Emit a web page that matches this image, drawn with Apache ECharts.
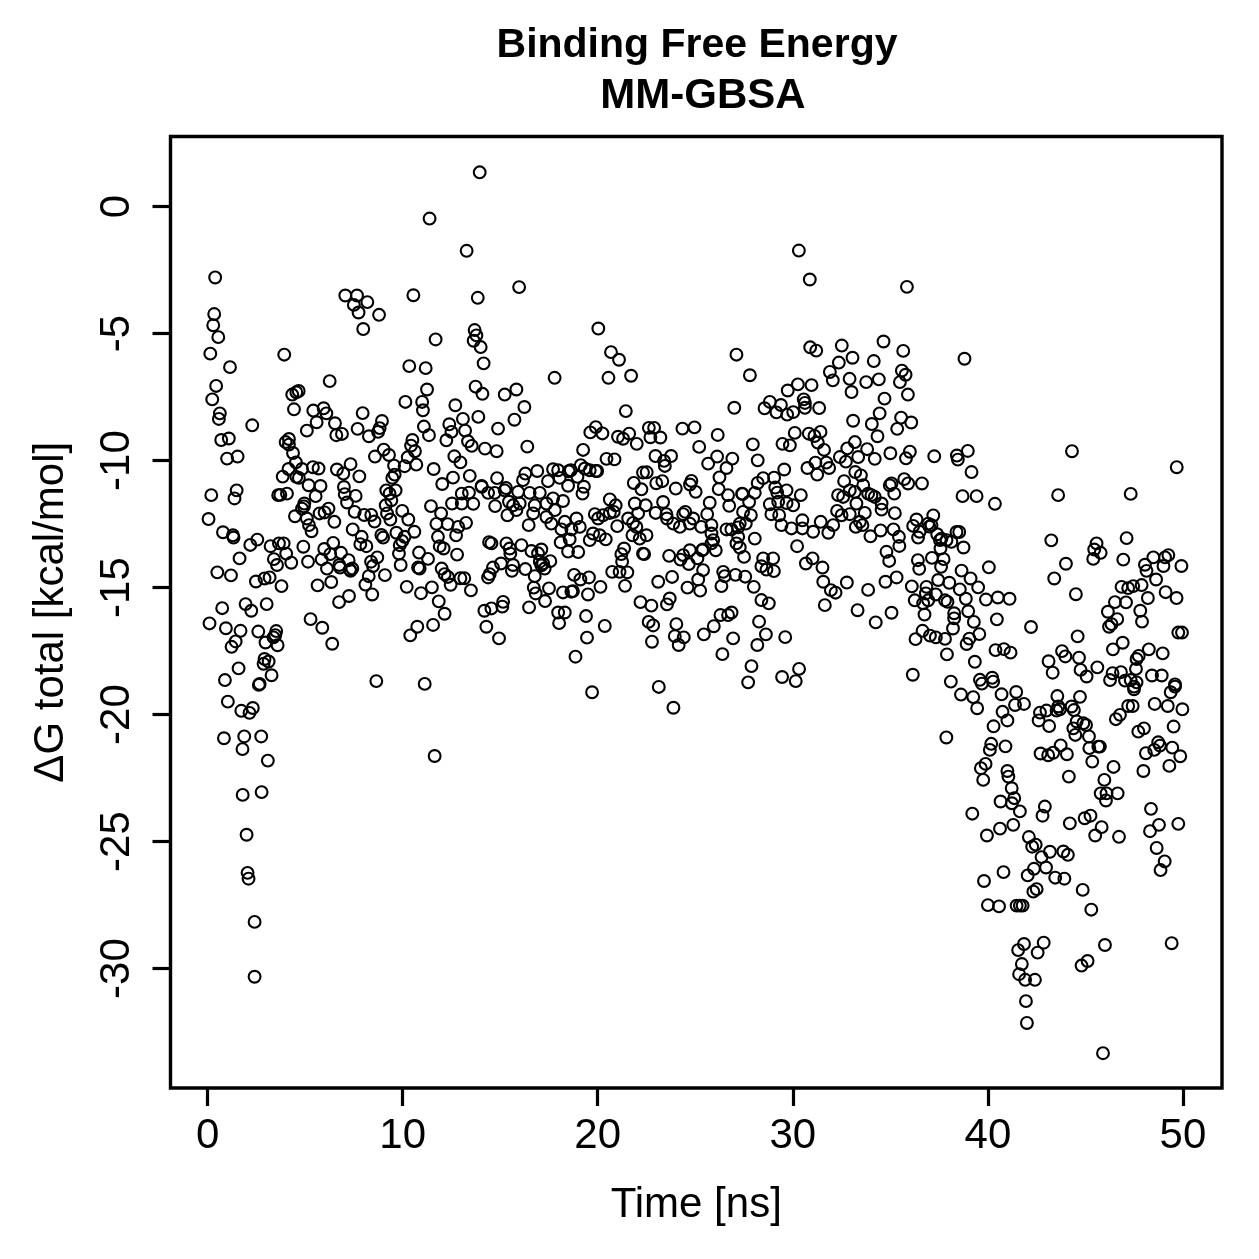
<!DOCTYPE html>
<html>
<head>
<meta charset="utf-8">
<style>html,body{margin:0;padding:0;background:#fff}#chart{width:1259px;height:1259px}</style>
<script src="https://cdn.jsdelivr.net/npm/echarts@6/dist/echarts.min.js"></script>
</head>
<body>
<div id="chart"></div>
<script>
// Each entry is [time in ns, total binding free energy in kcal/mol].
const frames0to16Upper = [
[13.95,1.35],[11.38,-0.47],[13.28,-1.74],[0.39,-2.79],[7.06,-3.5],[7.66,-3.5],[8.19,-3.76],[7.5,-3.87],[7.74,-4.17],[8.79,-4.26],[7.98,-4.82],[10.55,-3.49],[13.85,-3.59],[15.97,-3.17],[0.34,-4.23],[0.29,-4.67],[0.55,-5.14],[0.14,-5.79],[1.15,-6.32],[3.93,-5.83],[13.69,-4.86],[13.78,-5.07],[13.64,-5.28],[14.0,-5.53],[14.15,-6.17],[11.69,-5.23],[10.34,-6.28],[11.18,-6.36],[6.26,-6.87],[0.44,-7.06],[0.24,-7.59],[4.67,-7.26],[4.55,-7.31],[4.34,-7.4],[4.43,-7.98],[11.25,-7.2],[11.0,-7.69],[10.14,-7.69],[11.04,-8.02],[12.7,-7.82],[13.74,-7.09],[14.09,-7.37],[15.23,-7.4],[15.83,-7.2],[0.63,-8.14],[0.58,-8.36],[2.29,-8.61],[5.42,-8.03],[5.95,-7.94],[6.09,-8.14],[5.59,-8.49],[5.09,-8.82],[6.53,-8.53],[6.6,-9.0],[6.89,-8.95],[7.95,-8.13],[7.69,-8.75],[8.27,-9.04],[8.94,-8.44],[8.82,-8.72],[8.74,-8.87],[13.88,-8.28],[13.09,-8.36],[12.39,-8.57],[12.5,-8.87],[13.2,-8.82],[12.24,-9.2],[13.35,-9.24],[13.54,-9.42],[14.89,-8.74],[15.73,-8.39],[11.09,-8.66],[11.35,-9.0],[10.5,-9.19],[10.43,-9.41],[10.63,-9.63],[10.26,-9.87],[10.1,-10.22],[10.7,-10.16],[9.03,-9.57],[9.3,-9.78],[8.58,-9.84],[9.56,-10.2],[9.59,-10.55],[9.47,-10.68],[11.59,-10.33],[12.65,-9.83],[12.96,-10.07],[14.22,-9.53],[14.82,-9.63],[12.58,-10.67],[13.44,-10.6],[14.84,-10.69],[0.7,-9.19],[1.09,-9.13],[1.0,-9.92],[1.54,-9.84],[4.17,-9.15],[4.0,-9.27],[4.17,-9.37],[4.38,-9.7],[4.53,-10.07],[4.15,-10.33],[4.84,-10.33],[5.4,-10.26],[5.69,-10.31],[6.63,-10.35],[6.96,-10.51],[7.33,-10.14],[7.78,-10.62],[3.85,-10.63],[4.55,-10.64],[4.68,-10.68],[5.18,-10.97],[5.79,-11.0],[6.99,-11.04],[12.03,-10.92],[14.05,-11.0],[15.3,-11.08]
];
const frames0to16Lower = [
[0.19,-11.36],[1.49,-11.17],[1.38,-11.49],[0.05,-12.3],[0.79,-12.82],[1.3,-12.94],[1.33,-13.03],[2.19,-13.32],[2.55,-13.11],[1.64,-13.85],[0.5,-14.4],[1.2,-14.52],[2.48,-14.76],[2.92,-14.64],[3.18,-14.6],[3.79,-14.94],[3.23,-13.37],[3.66,-13.26],[3.9,-13.26],[4.03,-13.66],[3.4,-13.88],[3.56,-14.11],[4.29,-14.02],[4.91,-13.39],[5.15,-13.98],[3.62,-11.36],[3.73,-11.35],[4.07,-11.3],[5.54,-11.4],[4.96,-11.69],[4.94,-11.8],[4.84,-11.89],[4.48,-12.19],[5.09,-12.28],[5.2,-12.54],[5.33,-12.78],[5.74,-12.08],[6.2,-11.89],[6.0,-12.04],[6.5,-12.41],[7.03,-11.32],[7.15,-11.65],[7.59,-11.39],[7.54,-12.02],[8.03,-12.14],[8.39,-12.14],[8.56,-12.4],[7.44,-12.71],[7.9,-13.0],[7.83,-13.29],[8.14,-13.37],[6.44,-13.24],[5.98,-13.48],[6.29,-13.68],[6.84,-13.63],[5.85,-13.89],[6.12,-14.25],[6.75,-14.11],[6.79,-14.21],[7.23,-13.92],[7.42,-14.25],[7.33,-14.34],[7.3,-14.29],[6.34,-14.78],[5.64,-14.91],[7.25,-15.33],[6.74,-15.57],[5.28,-16.24],[5.88,-16.58],[6.39,-17.21],[8.7,-13.81],[8.38,-13.98],[8.48,-14.15],[8.26,-14.55],[8.09,-14.88],[8.44,-15.27],[9.09,-14.51],[8.65,-18.68],[11.13,-18.79],[11.64,-21.63],[9.16,-11.17],[9.33,-11.3],[9.64,-11.17],[9.42,-11.56],[9.13,-11.76],[9.2,-12.08],[9.37,-12.32],[9.98,-11.98],[10.29,-12.32],[10.6,-12.8],[8.91,-12.93],[9.0,-13.03],[9.68,-12.84],[10.1,-13.0],[9.98,-13.17],[9.85,-13.33],[9.81,-13.66],[9.9,-14.11],[10.84,-13.62],[11.3,-13.87],[10.79,-14.21],[10.87,-14.25],[10.21,-14.97],[10.94,-15.22],[11.5,-14.99],[11.85,-15.54],[12.15,-16.03],[11.56,-16.47],[10.75,-16.54],[10.39,-16.88],[11.45,-11.79],[11.97,-12.08],[11.73,-12.49],[12.31,-12.5],[12.85,-12.61],[13.25,-12.45],[12.74,-12.94],[11.81,-13.0],[11.9,-13.37],[12.1,-13.46],[12.79,-13.7],[12.0,-14.25],[12.15,-14.47],[12.32,-14.58],[12.46,-14.89],[12.96,-14.63],[13.16,-14.63],[13.5,-15.11],[12.53,-11.69],[13.03,-11.3],[13.4,-11.26],[13.03,-11.69],[13.62,-11.7],[14.05,-11.03],[14.38,-11.27],[14.72,-11.27],[14.74,-11.79],[15.23,-11.17],[15.45,-11.62],[15.66,-11.76],[15.83,-11.95],[15.37,-12.15],[14.43,-13.21],[14.55,-13.26],[15.32,-13.26],[15.49,-13.46],[15.52,-13.66],[15.04,-14.05],[14.63,-14.21],[14.46,-14.47],[14.38,-14.6],[15.66,-14.11],[15.6,-14.34],[15.15,-15.56],[15.11,-15.75],[14.55,-15.82],[14.19,-15.91],[14.29,-16.54],[14.94,-17.0]
];
const frames0to4Deep = [
[0.75,-15.81],[1.95,-15.65],[2.24,-15.91],[3.03,-15.65],[0.1,-16.41],[0.94,-16.6],[1.69,-16.7],[2.6,-16.73],[3.52,-16.71],[3.47,-16.87],[3.38,-16.96],[2.97,-17.16],[3.59,-17.27],[1.44,-17.12],[1.23,-17.33],[2.92,-17.81],[3.13,-17.91],[2.87,-18.0],[1.59,-18.18],[0.89,-18.64],[3.28,-18.45],[2.67,-18.79],[2.63,-18.83],[1.04,-19.49],[1.73,-19.85],[2.32,-19.74],[2.15,-19.93],[0.84,-20.93],[1.88,-20.86],[2.75,-20.86],[1.79,-21.36],[3.09,-21.81],[1.8,-23.16],[2.77,-23.05],[2.0,-24.73],[2.05,-26.23],[2.1,-26.46],[2.41,-28.16],[2.41,-30.32]
];
const frames16to33Upper = [
[20.03,-4.8],[20.68,-5.73],[21.09,-6.03],[20.55,-6.74],[21.71,-6.66],[17.79,-6.74],[21.44,-8.05],[16.24,-7.89],[16.39,-9.45],[19.25,-9.58],[19.9,-8.68],[19.62,-8.89],[20.24,-8.93],[21.04,-9.06],[21.3,-9.14],[21.61,-8.94],[22.0,-9.34],[22.62,-8.71],[22.89,-8.71],[22.7,-9.08],[23.21,-9.09],[24.34,-8.74],[24.96,-8.69],[26.15,-8.99],[25.2,-9.46],[27.11,-5.83],[27.8,-6.64],[27.0,-7.92],[30.89,-5.54],[31.2,-5.67],[32.51,-5.47],[33.06,-5.95],[32.36,-6.14],[31.9,-6.51],[32.05,-6.84],[32.91,-6.78],[33.01,-7.3],[30.26,-7.0],[30.96,-7.03],[29.74,-7.24],[30.56,-7.59],[30.62,-7.73],[30.62,-7.92],[31.35,-7.93],[28.82,-7.69],[28.55,-7.94],[29.39,-7.81],[29.16,-8.1],[29.71,-8.19],[30.02,-8.09],[33.09,-8.43],[30.1,-8.91],[30.82,-8.94],[31.11,-9.03],[31.42,-8.87],[29.47,-9.34],[29.85,-9.4],[31.28,-9.29],[31.6,-9.58],[27.95,-9.36],[33.18,-9.27],[32.79,-9.52],[32.41,-9.86],[32.72,-10.04],[33.35,-9.86],[20.45,-9.93],[20.86,-9.95],[22.96,-9.82],[23.76,-9.82],[23.4,-10.01],[23.44,-10.21],[26.12,-9.84],[26.9,-9.92],[25.66,-10.12],[26.6,-10.29],[28.2,-9.99],[30.75,-10.29],[31.16,-10.08],[31.72,-10.08],[31.86,-10.29],[31.25,-10.55],[29.56,-10.35],[33.2,-10.45],[19.13,-10.18],[19.34,-10.31],[18.62,-10.38],[18.51,-10.42],[17.97,-10.38],[17.71,-10.34],[16.9,-10.41],[16.29,-10.51],[19.59,-10.38],[19.9,-10.41],[19.97,-10.41],[22.32,-10.47],[22.51,-10.46],[26.24,-10.66],[28.48,-10.69],[29.04,-10.67],[28.2,-10.88],[32.63,-10.81],[16.17,-10.77],[17.45,-10.81],[18.05,-10.68],[18.96,-10.64],[19.29,-11.03],[18.48,-10.99],[21.85,-10.88],[22.24,-11.13],[23.0,-10.89],[23.31,-10.81],[24.8,-10.8],[24.73,-10.94],[24.0,-11.1],[25.02,-11.23],[26.2,-11.12],[29.1,-11.06],[29.68,-11.17],[29.2,-11.26],[32.92,-11.17],[27.4,-11.3],[19.22,-11.3],[15.92,-11.23],[16.51,-11.27],[17.03,-11.27],[30.31,-1.73],[30.87,-2.87]
];
const frames16to33Lower = [
[16.0,-11.69],[16.69,-12.08],[16.77,-11.76],[16.46,-12.54],[17.37,-11.69],[17.71,-11.49],[18.22,-11.59],[17.8,-11.95],[17.37,-12.22],[17.62,-12.48],[18.31,-12.41],[18.91,-12.28],[19.08,-12.61],[18.14,-12.71],[18.65,-12.71],[18.1,-13.22],[18.56,-13.1],[18.48,-13.58],[19.0,-13.6],[19.85,-12.11],[20.02,-12.28],[19.76,-12.87],[20.1,-12.94],[19.59,-13.13],[20.41,-13.1],[20.62,-11.53],[20.92,-11.76],[20.62,-12.06],[20.82,-12.02],[20.27,-12.15],[21.0,-12.58],[21.9,-11.69],[22.46,-11.76],[22.07,-12.08],[21.56,-12.28],[21.81,-12.45],[21.98,-12.61],[21.78,-12.94],[22.5,-12.94],[22.15,-13.07],[23.35,-11.63],[22.97,-12.06],[23.52,-12.11],[23.55,-12.28],[23.87,-12.48],[24.21,-12.61],[24.38,-12.11],[24.49,-12.02],[24.89,-12.28],[24.72,-12.48],[25.61,-12.11],[25.31,-12.61],[25.83,-12.54],[26.6,-12.71],[26.85,-12.71],[27.28,-12.48],[27.59,-12.48],[27.2,-12.63],[25.83,-12.87],[25.92,-13.13],[25.83,-13.26],[26.05,-13.53],[25.4,-13.5],[27.2,-13.0],[27.11,-13.26],[28.05,-13.07],[27.28,-13.42],[27.5,-13.79],[26.68,-11.36],[26.74,-11.78],[25.74,-11.66],[27.42,-11.32],[28.05,-11.27],[27.76,-11.63],[27.45,-12.02],[27.85,-12.15],[28.82,-11.72],[29.25,-11.62],[30.02,-11.76],[28.9,-12.11],[29.3,-12.15],[30.41,-11.36],[29.68,-11.67],[29.42,-12.54],[29.93,-12.67],[30.49,-12.35],[31.04,-12.8],[30.49,-12.67],[31.43,-12.41],[31.82,-12.84],[32.07,-12.54],[32.27,-11.98],[32.5,-12.15],[32.92,-12.11],[32.32,-11.36],[32.58,-11.43],[33.26,-11.69],[33.23,-12.61],[16.09,-13.33],[16.6,-13.56],[17.11,-13.5],[16.94,-13.65],[17.03,-13.98],[17.57,-13.96],[17.28,-14.25],[16.29,-14.27],[17.2,-14.05],[17.11,-14.12],[16.77,-14.55],[16.72,-15.0],[16.82,-15.23],[17.5,-15.03],[17.3,-15.53],[16.48,-15.78],[18.22,-15.19],[18.65,-15.16],[18.73,-15.14],[18.79,-14.5],[19.11,-14.68],[19.55,-14.6],[19.5,-15.27],[20.14,-14.97],[17.97,-15.98],[18.31,-15.98],[18.02,-16.4],[19.4,-16.12],[20.36,-16.51],[19.45,-16.97],[18.86,-17.72],[19.71,-19.12],[21.35,-13.46],[21.21,-13.68],[21.25,-13.98],[20.74,-14.38],[21.12,-14.38],[21.52,-14.4],[21.4,-14.93],[22.32,-13.66],[22.38,-13.68],[23.66,-13.75],[24.24,-13.9],[24.38,-13.72],[24.72,-13.53],[24.67,-14.07],[25.11,-13.85],[25.4,-14.31],[25.15,-14.68],[25.35,-13.53],[23.1,-14.77],[23.81,-14.58],[24.6,-15.0],[25.25,-15.12],[26.43,-14.38],[26.51,-14.55],[26.34,-14.94],[27.06,-14.5],[27.56,-14.57],[28.0,-14.97],[28.39,-14.16],[28.48,-13.85],[28.99,-13.85],[28.65,-14.29],[29.03,-14.35],[30.22,-13.37],[31.01,-13.85],[30.67,-14.05],[31.52,-14.21],[31.56,-14.77],[31.95,-15.1],[32.19,-15.2],[32.77,-14.8],[31.64,-15.69],[33.32,-15.89],[28.39,-15.49],[28.77,-15.62],[28.27,-16.34],[28.62,-16.84],[28.18,-17.26],[27.88,-18.09],[27.71,-18.73],[29.45,-18.52],[30.32,-18.2],[30.15,-18.68],[29.61,-16.95],[22.19,-15.57],[22.75,-15.71],[23.69,-15.43],[23.55,-15.66],[22.61,-16.35],[22.84,-16.49],[24.03,-16.44],[23.95,-16.91],[24.41,-16.96],[24.15,-17.26],[22.78,-17.13],[25.44,-16.84],[25.95,-16.52],[26.29,-16.08],[26.68,-16.08],[26.86,-15.98],[26.94,-17.0],[26.39,-17.62],[23.13,-18.91],[23.88,-19.73]
];
const frames33to40Upper = [
[35.85,-3.16],[34.65,-5.31],[35.66,-5.68],[34.15,-6.08],[38.8,-5.99],[35.59,-6.46],[35.78,-6.62],[34.41,-6.8],[33.76,-6.91],[35.49,-6.91],[35.9,-7.4],[34.7,-7.56],[34.45,-8.14],[34.05,-8.56],[35.55,-8.31],[36.07,-8.5],[35.35,-8.75],[34.34,-9.04],[33.81,-9.55],[34.2,-9.93],[35.0,-9.71],[36.0,-9.65],[35.8,-9.91],[37.25,-9.83],[38.41,-9.8],[38.46,-9.96],[38.97,-9.62],[39.16,-10.45],[35.71,-10.73],[35.06,-10.9],[33.49,-10.58],[44.31,-9.63],[49.68,-10.26]
];
const frames33to50Middle = [
[33.61,-10.97],[34.97,-10.97],[35.91,-10.9],[36.62,-10.9],[35.2,-11.3],[34.03,-11.36],[33.18,-11.23],[33.86,-11.3],[34.2,-11.43],[38.7,-11.4],[39.42,-11.4],[40.36,-11.7],[43.6,-11.36],[47.32,-11.31],[34.55,-11.69],[34.55,-11.93],[35.23,-12.07],[33.69,-12.06],[33.44,-12.41],[33.57,-12.54],[34.5,-12.75],[33.98,-12.98],[35.16,-12.71],[35.44,-13.0],[35.46,-13.36],[34.8,-13.59],[34.94,-13.95],[35.32,-14.6],[34.75,-14.77],[33.86,-15.09],[34.25,-16.37],[35.06,-15.99],[36.34,-12.32],[37.2,-12.16],[36.17,-12.57],[36.94,-12.48],[37.11,-12.54],[36.5,-12.8],[36.42,-13.03],[37.0,-12.6],[37.4,-12.9],[37.54,-13.13],[37.62,-13.07],[37.88,-13.13],[38.13,-13.2],[37.57,-13.46],[38.39,-12.81],[38.53,-12.81],[38.75,-13.42],[36.41,-13.92],[36.48,-14.26],[37.13,-13.83],[37.73,-13.88],[37.6,-14.18],[38.65,-14.33],[39.11,-14.64],[40.05,-14.2],[39.5,-14.99],[37.45,-14.7],[38.02,-14.81],[36.1,-14.95],[36.85,-14.97],[38.56,-15.07],[36.82,-15.23],[37.33,-15.27],[36.25,-15.5],[36.68,-15.62],[36.94,-15.5],[37.8,-15.5],[37.93,-15.56],[38.87,-15.44],[39.9,-15.47],[40.51,-15.39],[41.11,-15.44],[36.75,-16.06],[38.27,-16.01],[38.27,-16.21],[38.99,-15.93],[39.28,-16.35],[38.21,-16.61],[40.46,-16.25],[36.65,-16.7],[36.29,-17.03],[37.03,-16.89],[37.33,-16.96],[37.8,-17.02],[39.56,-16.83],[39.05,-17.01],[38.91,-17.22],[37.9,-17.63],[39.33,-17.92],[40.39,-17.46],[40.82,-17.42],[41.16,-17.56],[42.21,-16.55],[36.15,-18.43],[38.1,-18.7],[38.62,-19.21],[39.25,-19.31],[39.45,-19.75],[37.87,-20.9],[39.59,-18.63],[39.69,-18.78],[40.22,-18.55],[40.27,-18.7],[40.7,-19.2],[41.45,-19.11],[41.39,-19.62],[41.85,-19.58],[40.75,-19.89],[41.0,-20.23],[40.29,-20.46],[40.17,-21.15],[40.1,-21.39],[40.9,-21.25],[39.88,-21.94],[39.64,-22.11],[41.0,-22.22],[41.05,-22.44],[39.76,-22.57],[43.25,-13.14],[44.0,-14.06],[43.4,-14.64],[44.51,-15.26],[44.6,-16.92],[45.57,-13.26],[45.45,-13.5],[45.78,-13.63],[45.4,-13.87],[47.11,-13.05],[46.94,-13.9],[48.05,-14.1],[48.48,-13.81],[49.25,-13.72],[49.08,-13.81],[49.0,-14.15],[49.92,-14.15],[48.13,-14.34],[48.62,-14.68],[49.11,-15.18],[49.67,-15.41],[48.2,-15.41],[47.88,-14.9],[47.45,-14.94],[47.19,-15.02],[46.85,-14.97],[46.51,-15.57],[47.08,-15.58],[46.15,-15.95],[46.63,-16.24],[46.34,-16.44],[46.21,-16.54],[47.81,-15.91],[47.9,-16.34],[49.76,-16.77],[49.95,-16.77],[46.91,-17.17],[46.41,-17.43],[48.25,-17.43],[48.96,-17.59],[47.73,-17.69],[47.62,-17.81],[47.59,-18.2],[43.8,-17.5],[43.97,-17.71],[43.11,-17.9],[43.32,-18.35],[44.67,-17.76],[44.75,-18.24],[45.06,-18.5],[45.61,-18.14],[46.39,-18.37],[46.82,-18.33],[46.26,-18.64],[47.03,-18.66],[47.32,-18.64],[47.62,-18.73],[47.49,-18.9],[47.49,-19.0],[48.41,-18.46],[48.91,-18.46],[49.59,-18.81],[49.59,-18.9],[49.37,-19.12],[48.55,-19.58],[49.22,-19.66],[49.97,-19.79],[47.19,-19.66],[47.42,-19.66],[46.77,-20.01],[46.56,-20.18],[43.56,-19.27],[44.72,-19.3],[43.61,-19.68],[43.69,-19.79],[42.67,-19.92],[43.0,-19.84],[43.52,-19.84],[44.29,-19.68],[44.41,-19.82],[42.6,-20.23],[43.14,-20.45],[44.55,-20.27],[44.89,-20.34],[45.03,-20.41],[44.38,-20.54],[44.48,-20.8],[45.18,-20.86],[49.52,-20.47],[47.71,-20.67],[48.0,-20.54],[48.73,-21.09],[48.82,-21.22],[48.53,-21.39],[48.1,-21.52],[49.45,-21.3],[49.86,-21.64],[49.3,-22.02],[47.97,-22.22],[45.66,-21.26],[45.74,-21.26],[45.2,-21.32],[45.35,-21.85],[46.44,-22.06],[43.73,-21.21],[43.35,-21.5],[43.09,-21.6],[42.7,-21.53],[44.05,-21.56],[44.15,-22.44],[45.97,-22.57]
];
const frames39to50Deep = [
[41.22,-22.9],[41.35,-23.29],[41.23,-23.49],[40.65,-23.42],[41.64,-23.81],[39.2,-23.9],[41.3,-24.34],[40.62,-24.49],[39.95,-24.76],[42.92,-23.62],[42.8,-23.98],[45.78,-23.1],[46.08,-23.1],[46.65,-23.1],[46.05,-23.38],[48.36,-23.71],[48.77,-24.34],[48.31,-24.59],[49.76,-24.3],[48.65,-25.25],[49.06,-25.78],[48.85,-26.12],[49.42,-29.0],[44.2,-24.28],[44.96,-24.08],[45.26,-23.98],[45.83,-24.43],[45.5,-24.76],[46.72,-24.81],[42.1,-24.82],[42.45,-25.12],[42.27,-25.2],[43.18,-25.4],[42.75,-25.61],[43.87,-25.39],[44.1,-25.52],[42.98,-26.02],[42.36,-26.07],[42.04,-26.33],[43.45,-26.42],[43.92,-26.46],[40.8,-26.2],[39.8,-26.55],[42.5,-26.87],[42.33,-26.97],[44.86,-26.9],[45.3,-27.68],[40.0,-27.5],[40.57,-27.55],[41.47,-27.52],[41.64,-27.52],[41.78,-27.52],[42.86,-28.98],[41.85,-29.03],[41.55,-29.27],[42.55,-29.37],[41.74,-29.82],[41.6,-30.22],[41.91,-30.44],[42.41,-30.44],[46.0,-29.07],[45.11,-29.7],[44.8,-29.88],[41.95,-31.28],[42.0,-32.14],[45.9,-33.33]
];

const timeTicks = [0, 10, 20, 30, 40, 50];
const energyTicks = [0, -5, -10, -15, -20, -25, -30];
const titleLineOne = 'Binding Free Energy';
const titleLineTwo = 'MM-GBSA';
const timeLabel = 'Time [ns]';
const energyLabel = '\u0394G total [kcal/mol]';

const points = [].concat(
  frames0to16Upper, frames0to16Lower, frames0to4Deep,
  frames16to33Upper, frames16to33Lower,
  frames33to40Upper, frames33to50Middle, frames39to50Deep
);

const FONT = '"Liberation Sans", Arial, Helvetica, sans-serif';
const titleStyle = { fontFamily: FONT, fontSize: 41, fontWeight: 'bold', color: '#000' };
const chart = echarts.init(document.getElementById('chart'), null, { renderer: 'canvas' });
chart.setOption({
  animation: false,
  backgroundColor: '#ffffff',
  title: [
    { text: titleLineOne, left: 692, top: 20, textAlign: 'center', textStyle: titleStyle },
    { text: titleLineTwo, left: 698, top: 70, textAlign: 'center',
      textStyle: Object.assign({}, titleStyle, { fontSize: 42 }) }
  ],
  grid: {
    left: 170.5, right: 37, top: 136.5, bottom: 171,
    show: true, borderColor: '#000', borderWidth: 3.4, backgroundColor: 'transparent'
  },
  xAxis: {
    type: 'value',
    min: -1.9, max: 52,
    name: timeLabel,
    nameLocation: 'middle',
    nameGap: 96,
    nameTextStyle: { fontFamily: FONT, fontSize: 42, color: '#000' },
    splitLine: { show: false },
    axisLine: { show: false, onZero: false },
    axisTick: {
      show: true, length: 18, inside: false,
      lineStyle: { color: '#000', width: 3.2 },
      customValues: timeTicks
    },
    axisLabel: {
      show: true, margin: 27, color: '#000',
      fontFamily: FONT, fontSize: 42,
      customValues: timeTicks
    }
  },
  yAxis: {
    type: 'value',
    min: -34.7, max: 2.76,
    name: energyLabel,
    nameLocation: 'middle',
    nameGap: 98,
    nameRotate: 90,
    nameTextStyle: { fontFamily: FONT, fontSize: 42, color: '#000' },
    splitLine: { show: false },
    axisLine: { show: false, onZero: false },
    axisTick: {
      show: true, length: 18, inside: false,
      lineStyle: { color: '#000', width: 3.2 },
      customValues: energyTicks
    },
    axisLabel: {
      show: true, margin: 32, color: '#000', rotate: 90,
      fontFamily: FONT, fontSize: 42,
      customValues: energyTicks
    }
  },
  series: [{
    type: 'scatter',
    data: points,
    symbol: 'circle',
    symbolSize: 11.8,
    itemStyle: { color: 'rgba(255,255,255,0)', borderColor: '#000', borderWidth: 2.1, opacity: 1 },
    silent: true,
    clip: false
  }]
});
</script>
</body>
</html>
